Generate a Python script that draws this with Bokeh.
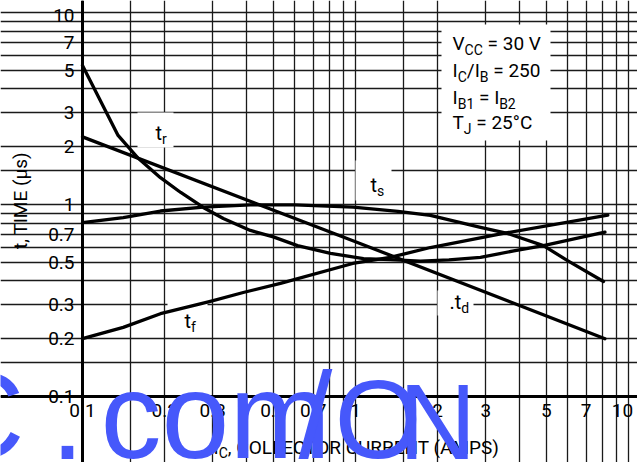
import math
from bokeh.plotting import figure
from bokeh.models import FixedTicker, Label, Range1d, Grid
from bokeh.embed import file_html
from bokeh.resources import INLINE

# ---------------- data ----------------
tr_x = [0.1, 0.135, 0.16, 0.193, 0.229, 0.277, 0.328, 0.412, 0.5, 0.613, 0.81, 1.07, 1.34, 1.73, 2.2, 2.87, 3.8, 4.88, 6.2, 8.2]
tr_y = [5.3, 2.29, 1.74, 1.38, 1.155, 0.965, 0.845, 0.733, 0.678, 0.611, 0.556, 0.523, 0.516, 0.507, 0.515, 0.531, 0.573, 0.611, 0.658, 0.718]

ts_x = [0.1, 0.141, 0.193, 0.277, 0.412, 0.6, 0.98, 1.43, 1.88, 2.87, 3.6, 4.88, 5.98, 8.1]
ts_y = [0.805, 0.855, 0.925, 0.97, 0.995, 0.995, 0.97, 0.92, 0.877, 0.76, 0.707, 0.611, 0.51, 0.397]

td_x = [0.1, 1.0, 8.2]
td_y = [2.25, 0.64, 0.2]

tf_x = [0.1, 0.141, 0.193, 0.294, 0.388, 0.531, 0.977, 1.34, 1.88, 3.48, 8.4]
tf_y = [0.2, 0.229, 0.27, 0.313, 0.348, 0.388, 0.493, 0.53, 0.597, 0.707, 0.88]

x_ticks = [0.1, 0.2, 0.3, 0.5, 0.7, 1, 2, 3, 5, 7, 10]
x_tick_labels = ["0.1", "0.2", "0.3", "0.5", "0.7", "1", "2", "3", "5", "7", "10"]
y_ticks = [0.1, 0.2, 0.3, 0.5, 0.7, 1, 2, 3, 5, 7, 10]
y_tick_labels = ["0.1", "0.2", "0.3", "0.5", "0.7", "1", "2", "3", "5", "7", "10"]

x_grid = [0.1, 0.15, 0.2, 0.3, 0.4, 0.5, 0.6, 0.7, 0.8, 0.9, 1, 1.5, 2, 3, 4, 5, 6, 7, 8, 9, 10]
y_grid = [0.1, 0.15, 0.2, 0.3, 0.4, 0.5, 0.6, 0.7, 0.8, 0.9, 1, 1.5, 2, 3, 4, 5, 6, 7, 8, 9, 10]

# ---------------- layout (canvas pixels) ----------------
W, H = 637, 462
FL, FR, FT, FB = 82, 628, 12, 396
FONT = "Roboto"
WFONT = "Liberation Sans"
BLUE = "#4658fb"
MID = 0.345   # em-box middle above the alphabetic baseline


def fx(px):
    return 10 ** (-1 + 2 * (px - FL) / (FR - FL))


def fy(py):
    return 10 ** (-1 + 2 * (FB - py) / (FB - FT))


RW = {' ': .248, '.': .257, ',': .192, '/': .41, '=': .537, '°': .376, '(': .334, ')': .34,
      'A': .652, 'B': .624, 'C': .652, 'E': .569, 'I': .274, 'J': .553, 'L': .539, 'M': .873,
      'N': .713, 'O': .688, 'P': .631, 'R': .616, 'S': .595, 'T': .597, 'U': .648, 'V': .637,
      'c': .511, 'd': .547, 'f': .347, 'm': .859, 'o': .557, 'r': .338, 's': .518, 't': .327}


def tw(s, size):
    return sum(RW.get(c, .5615) for c in s) * size


p = figure(width=W, height=H, x_axis_type="log", y_axis_type="log",
           x_axis_location=None, y_axis_location=None,
           x_range=Range1d(fx(0), fx(W)), y_range=Range1d(fy(H), fy(0)),
           output_backend="svg", toolbar_location=None,
           min_border=0, min_border_left=0, min_border_right=0,
           min_border_top=0, min_border_bottom=0)
p.background_fill_color = "white"
p.border_fill_color = "white"
p.outline_line_color = None
p.grid.visible = False

p.add_layout(Grid(dimension=0, ticker=FixedTicker(ticks=x_grid), bounds=(0.1, 10),
                  grid_line_color="#1a1a1a", grid_line_width=1.3))
p.add_layout(Grid(dimension=1, ticker=FixedTicker(ticks=y_grid), bounds=(0.1, 10),
                  grid_line_color="#1a1a1a", grid_line_width=1.3))
# heavy axis lines along the left and bottom edges of the grid
p.add_layout(Grid(dimension=0, ticker=FixedTicker(ticks=[0.1]), bounds=(0.1, 10),
                  grid_line_color="black", grid_line_width=3))
p.add_layout(Grid(dimension=1, ticker=FixedTicker(ticks=[0.1]), bounds=(0.1, 10),
                  grid_line_color="black", grid_line_width=3))

# white masks behind the in-plot texts
mask_l = [fx(441), fx(137), fx(355), fx(437), fx(167)]
mask_r = [fx(550), fx(173), fx(391), fx(473), fx(207)]
mask_t = [fy(24), fy(112), fy(160), fy(290), fy(300)]
mask_b = [fy(140), fy(147), fy(200), fy(315), fy(335)]
p.quad(left=mask_l, right=mask_r, top=mask_t, bottom=mask_b,
       fill_color="white", line_color=None)

for xs, ys in ((tr_x, tr_y), (ts_x, ts_y), (td_x, td_y), (tf_x, tf_y)):
    p.line(xs, ys, line_width=3.3, line_color="black", line_join="round", line_cap="round")


def lab(x, y, text, size, font=FONT, color="black", align="left", baseline="middle", angle=0.0):
    p.add_layout(Label(x=x, y=y, text=text, text_font=font, text_font_size="%dpx" % size,
                       text_color=color, text_align=align, text_baseline=baseline, angle=angle))


def rich(parts, x0, base, size, sub_size, drop, color="black", font=FONT):
    """Place text pieces along a baseline; subscripts smaller and lowered."""
    x = x0
    for txt, sub in parts:
        s = sub_size if sub else size
        yb = base + (drop if sub else 0)
        lead = len(txt) - len(txt.lstrip(" "))
        x += tw(" " * lead, s)          # leading blanks are collapsed by SVG: advance instead
        body = txt.lstrip(" ")
        lab(fx(x), fy(yb - MID * s), body, s, font=font, color=color)
        x += tw(body, s)


# tick labels
for t, l in zip(x_ticks, x_tick_labels):
    xx = fx(622) if l == "10" else t
    lab(xx, fy(FB + 7), l, 19, align="center", baseline="top")
for t, l in zip(y_ticks, y_tick_labels):
    yy = fy(15) if l == "10" else t
    lab(fx(FL - 8), yy, l, 19, align="right", baseline="middle")

# curve labels
rich([("t", 0), ("r", 1)], 155, 139, 20, 14, 4)
rich([("t", 0), ("s", 1)], 370, 191, 20, 14, 4)
rich([(".t", 0), ("d", 1)], 449, 308, 20, 14, 4)
rich([("t", 0), ("f", 1)], 184, 327, 20, 14, 4)

# conditions box
rich([("V", 0), ("CC", 1), (" = 30 V", 0)], 452, 50, 19, 14, 4)
rich([("I", 0), ("C", 1), ("/I", 0), ("B", 1), (" = 250", 0)], 452, 77, 19, 14, 4)
rich([("I", 0), ("B1", 1), (" = I", 0), ("B2", 1)], 452, 104, 19, 14, 4)
rich([("T", 0), ("J", 1), (" = 25°C", 0)], 452, 129, 19, 14, 4)

# axis titles
rich([("I", 0), ("C", 1), (", COLLECTOR CURRENT (AMPS)", 0)], 213, 454, 19, 14, 3)
lab(fx(20), fy(200), "t, TIME (\u00b5s)", 19, align="center", angle=math.pi / 2)

# blue watermark overlay
for txt, px, ws in (("C", -64, 122), (".", 50, 122), ("com", 100, 122), ("/", 298, 122),
                    ("O", 334, 112), ("N", 398, 108)):
    lab(fx(px), fy(458 - 0.3465 * ws), txt, ws, font=WFONT, color=BLUE)

open("out.html", "w").write(file_html(p, INLINE))
